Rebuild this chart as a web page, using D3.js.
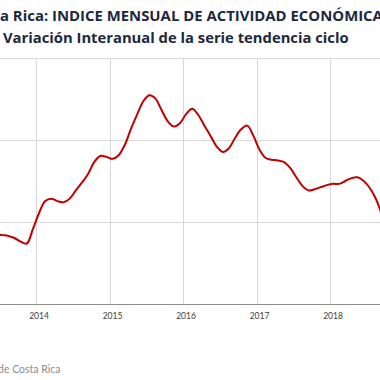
<!DOCTYPE html>
<html>
<head>
<meta charset="utf-8">
<script src="https://cdn.jsdelivr.net/npm/d3@7"></script>
<style>
  html, body { margin: 0; padding: 0; background: #ffffff; overflow: hidden; }
  svg { display: block; }
</style>
</head>
<body>
<svg id="chart" width="380" height="380"></svg>
<script>
// ---- data ----
const titleLine1 = "Costa Rica: INDICE MENSUAL DE ACTIVIDAD ECONÓMICA";
const titleLine2 = "Variación Interanual de la serie tendencia ciclo";
const sourceText = "Fuente: Banco Central de Costa Rica";

const months = [
  "2013-05","2013-06","2013-07","2013-08","2013-09","2013-10","2013-11","2013-12",
  "2014-01","2014-02","2014-03","2014-04","2014-05","2014-06","2014-07","2014-08","2014-09","2014-10","2014-11","2014-12",
  "2015-01","2015-02","2015-03","2015-04","2015-05","2015-06","2015-07","2015-08","2015-09","2015-10","2015-11","2015-12",
  "2016-01","2016-02","2016-03","2016-04","2016-05","2016-06","2016-07","2016-08","2016-09","2016-10","2016-11","2016-12",
  "2017-01","2017-02","2017-03","2017-04","2017-05","2017-06","2017-07","2017-08","2017-09","2017-10","2017-11","2017-12",
  "2018-01","2018-02","2018-03","2018-04","2018-05","2018-06","2018-07","2018-08","2018-09","2018-10"
];
const imaeVariation = [
  1.71,1.70,1.68,1.66,1.61,1.52,1.475,1.83,
  2.22,2.51,2.57,2.51,2.48,2.57,2.77,2.96,3.17,3.46,3.61,3.59,
  3.54,3.63,3.88,4.27,4.62,4.94,5.09,5.01,4.73,4.46,4.33,4.41,
  4.63,4.76,4.61,4.35,4.10,3.84,3.71,3.80,4.05,4.26,4.35,4.10,
  3.76,3.56,3.52,3.50,3.46,3.32,3.09,2.88,2.77,2.80,2.85,2.90,
  2.93,2.93,3.00,3.07,3.09,3.00,2.83,2.56,2.17,1.76
];
const yearLabels = ["2014","2015","2016","2017","2018"];
const yTicks = [0, 2, 4, 6];

// ---- layout ----
const svg = d3.select("#chart");
const plotTop = 58, plotBottom = 304;
const monthW = 6.125;
const firstJanX = 36;               // left edge of the Jan-2014 band
const janIndex = months.indexOf("2014-01");
const x0 = firstJanX - janIndex * monthW;

const x = d3.scaleBand().domain(months).range([x0, x0 + months.length * monthW]).padding(0);
const y = d3.scaleLinear().domain([0, 6]).range([plotBottom, plotTop]);

svg.append("rect").attr("width", 380).attr("height", 380).attr("fill", "#ffffff");

// horizontal gridlines
svg.append("g").selectAll("line").data(yTicks.filter(d => d !== 0)).join("line")
  .attr("x1", 0).attr("x2", 380)
  .attr("y1", d => Math.round(y(d)) + 0.5).attr("y2", d => Math.round(y(d)) + 0.5)
  .attr("stroke", "#d9d9d9").attr("stroke-width", 1);

// vertical gridlines at each year boundary
svg.append("g").selectAll("line").data(yearLabels).join("line")
  .attr("x1", d => Math.round(x(d + "-01")) + 0.5).attr("x2", d => Math.round(x(d + "-01")) + 0.5)
  .attr("y1", plotTop).attr("y2", plotBottom)
  .attr("stroke", "#d9d9d9").attr("stroke-width", 1);

// x axis line
svg.append("line")
  .attr("x1", 0).attr("x2", 380)
  .attr("y1", Math.round(y(0)) + 0.5).attr("y2", Math.round(y(0)) + 0.5)
  .attr("stroke", "#8c8c8c").attr("stroke-width", 1);

// year labels (centred on the January band)
svg.append("g").selectAll("text").data(yearLabels).join("text")
  .attr("x", d => x(d + "-01") + x.bandwidth() / 2)
  .attr("y", 319)
  .attr("text-anchor", "middle")
  .attr("font-family", "Lato, 'Open Sans', sans-serif")
  .attr("font-size", 8.5)
  .attr("fill", "#404040")
  .text(d => d);

// the series line
const line = d3.line()
  .x((d, i) => x(months[i]) + x.bandwidth() / 2)
  .y(d => y(d))
  .curve(d3.curveCatmullRom.alpha(0.5));

svg.append("path")
  .datum(imaeVariation)
  .attr("d", line)
  .attr("fill", "none")
  .attr("stroke", "#c00000")
  .attr("stroke-width", 2)
  .attr("stroke-linejoin", "round");

// ---- titles ----
const titleFont = "'Open Sans', 'DejaVu Sans', sans-serif";
const t1 = svg.append("text")
  .attr("font-family", titleFont).attr("font-weight", "bold")
  .attr("font-size", 12).attr("fill", "#1c2841")
  .attr("y", 20.5)
  .text(titleLine1);
// fit: from the "a" of "Costa" to the start of the final "A" ≈ 373px
{
  const node = t1.node();
  const startIdx = titleLine1.indexOf("a Rica");
  const endIdx = titleLine1.length - 1;
  const w = node.getSubStringLength(startIdx, endIdx - startIdx);
  const fs = 12 * 373 / w;
  t1.attr("font-size", fs);
  const pre = node.getSubStringLength(0, startIdx);
  t1.attr("x", -pre);
}

const t2 = svg.append("text")
  .attr("font-family", titleFont).attr("font-weight", "bold")
  .attr("font-size", 13).attr("fill", "#1c2841")
  .attr("x", 3).attr("y", 42.5)
  .text(titleLine2);
{
  const w = t2.node().getComputedTextLength();
  t2.attr("font-size", 13 * 346 / w);
}

// source note
svg.append("text")
  .attr("x", 60.5).attr("y", 373)
  .attr("text-anchor", "end")
  .attr("font-family", "Lato, 'Open Sans', sans-serif")
  .attr("font-size", 10.5)
  .attr("fill", "#8c8c8c")
  .text(sourceText);
</script>
</body>
</html>
